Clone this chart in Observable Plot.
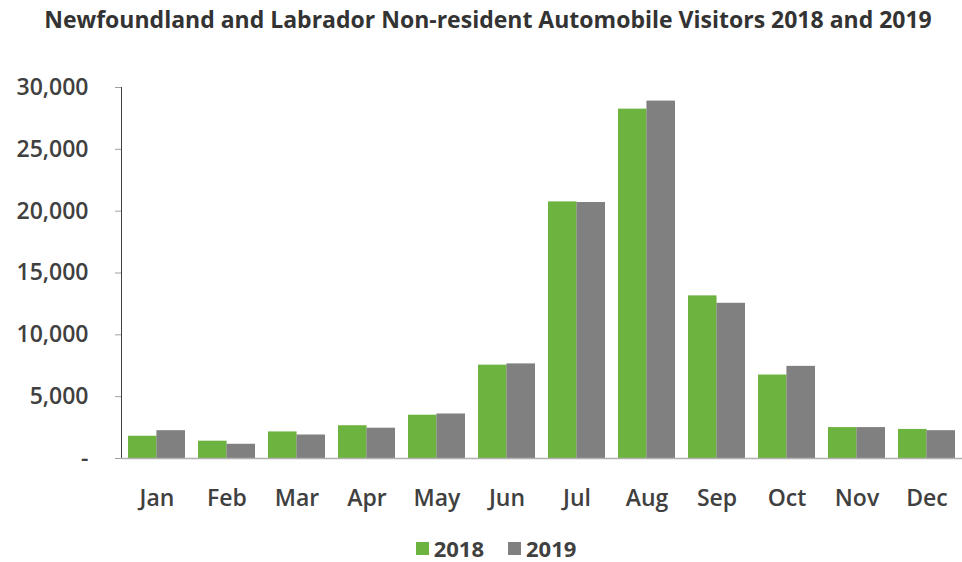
<!DOCTYPE html>
<html>
<head>
<meta charset="utf-8">
<script src="https://cdn.jsdelivr.net/npm/d3@7"></script>
<script src="https://cdn.jsdelivr.net/npm/@observablehq/plot@0.6"></script>
<style>
  html, body { margin: 0; padding: 0; background: #fff; }
  body { width: 962px; height: 562px; overflow: hidden; font-family: "Open Sans", sans-serif; }
  #title { height: 45px; line-height: 38px; text-align: center; font-weight: 700; font-size: 23px; color: #333; padding-left: 14px; white-space: nowrap; }
  #legend { display: flex; justify-content: center; align-items: center; gap: 24px; font-weight: 700; font-size: 22px; line-height: 22px; color: #404040; padding-left: 30px; margin-top: 17px; }
  #legend .item { display: flex; align-items: center; gap: 5px; }
  #legend .sw { width: 13px; height: 13px; display: inline-block; }
</style>
</head>
<body>
<div id="title"></div>
<div id="chart"></div>
<div id="legend"></div>
<script>
const titleText = "Newfoundland and Labrador Non-resident Automobile Visitors 2018 and 2019";
const months = ["Jan","Feb","Mar","Apr","May","Jun","Jul","Aug","Sep","Oct","Nov","Dec"];
const years = ["2018","2019"];
const values2018 = [1800, 1400, 2150, 2650, 3500, 7550, 20750, 28250, 13150, 6750, 2500, 2350];
const values2019 = [2250, 1150, 1900, 2450, 3600, 7650, 20700, 28900, 12550, 7450, 2500, 2250];
const yTicks = [0, 5000, 10000, 15000, 20000, 25000, 30000];
const colors = ["#6db33f", "#808080"];

document.getElementById("title").textContent = titleText;

const data = [];
months.forEach((m, i) => {
  data.push({month: m, year: years[0], value: values2018[i]});
  data.push({month: m, year: years[1], value: values2019[i]});
});

const W = 962, mL = 121, mR = 0;
const pInner = 0.19, pOuter = 0.085;
const step = (W - mL - mR) / (months.length - pInner + 2 * pOuter);
const bw = step * (1 - pInner);

const fmt = d3.format(",");
const chart = Plot.plot({
  width: W,
  height: 475,
  marginLeft: mL,
  marginRight: mR,
  marginTop: 42,
  marginBottom: 62,
  style: {fontFamily: "Open Sans, sans-serif", fontSize: "23px", fontWeight: 600, color: "#404040", background: "#fff"},
  x: {domain: months, paddingInner: pInner, paddingOuter: pOuter, label: null, tickSize: 0, tickPadding: 31},
  y: {domain: [0, 30000], ticks: yTicks, label: null, tickSize: 6, tickPadding: 27, line: true,
      tickFormat: d => d === 0 ? "-" : fmt(d)},
  color: {domain: years, range: colors},
  marks: [
    Plot.barY(data.filter(d => d.year === years[0]), {x: "month", y: "value", fill: "year", insetRight: bw / 2}),
    Plot.barY(data.filter(d => d.year === years[1]), {x: "month", y: "value", fill: "year", insetLeft: bw / 2}),
    Plot.ruleY([0], {stroke: "#b0b0b0", strokeWidth: 1.5})
  ]
});
d3.select(chart).selectAll("[aria-label='y-axis tick'], [aria-label='y-axis line']").attr("stroke", "#a0a0a0");
document.getElementById("chart").appendChild(chart);

const legend = document.getElementById("legend");
years.forEach((y, i) => {
  const item = document.createElement("div");
  item.className = "item";
  const sw = document.createElement("span");
  sw.className = "sw";
  sw.style.background = colors[i];
  const t = document.createElement("span");
  t.textContent = y;
  item.appendChild(sw); item.appendChild(t);
  legend.appendChild(item);
});
</script>
</body>
</html>
